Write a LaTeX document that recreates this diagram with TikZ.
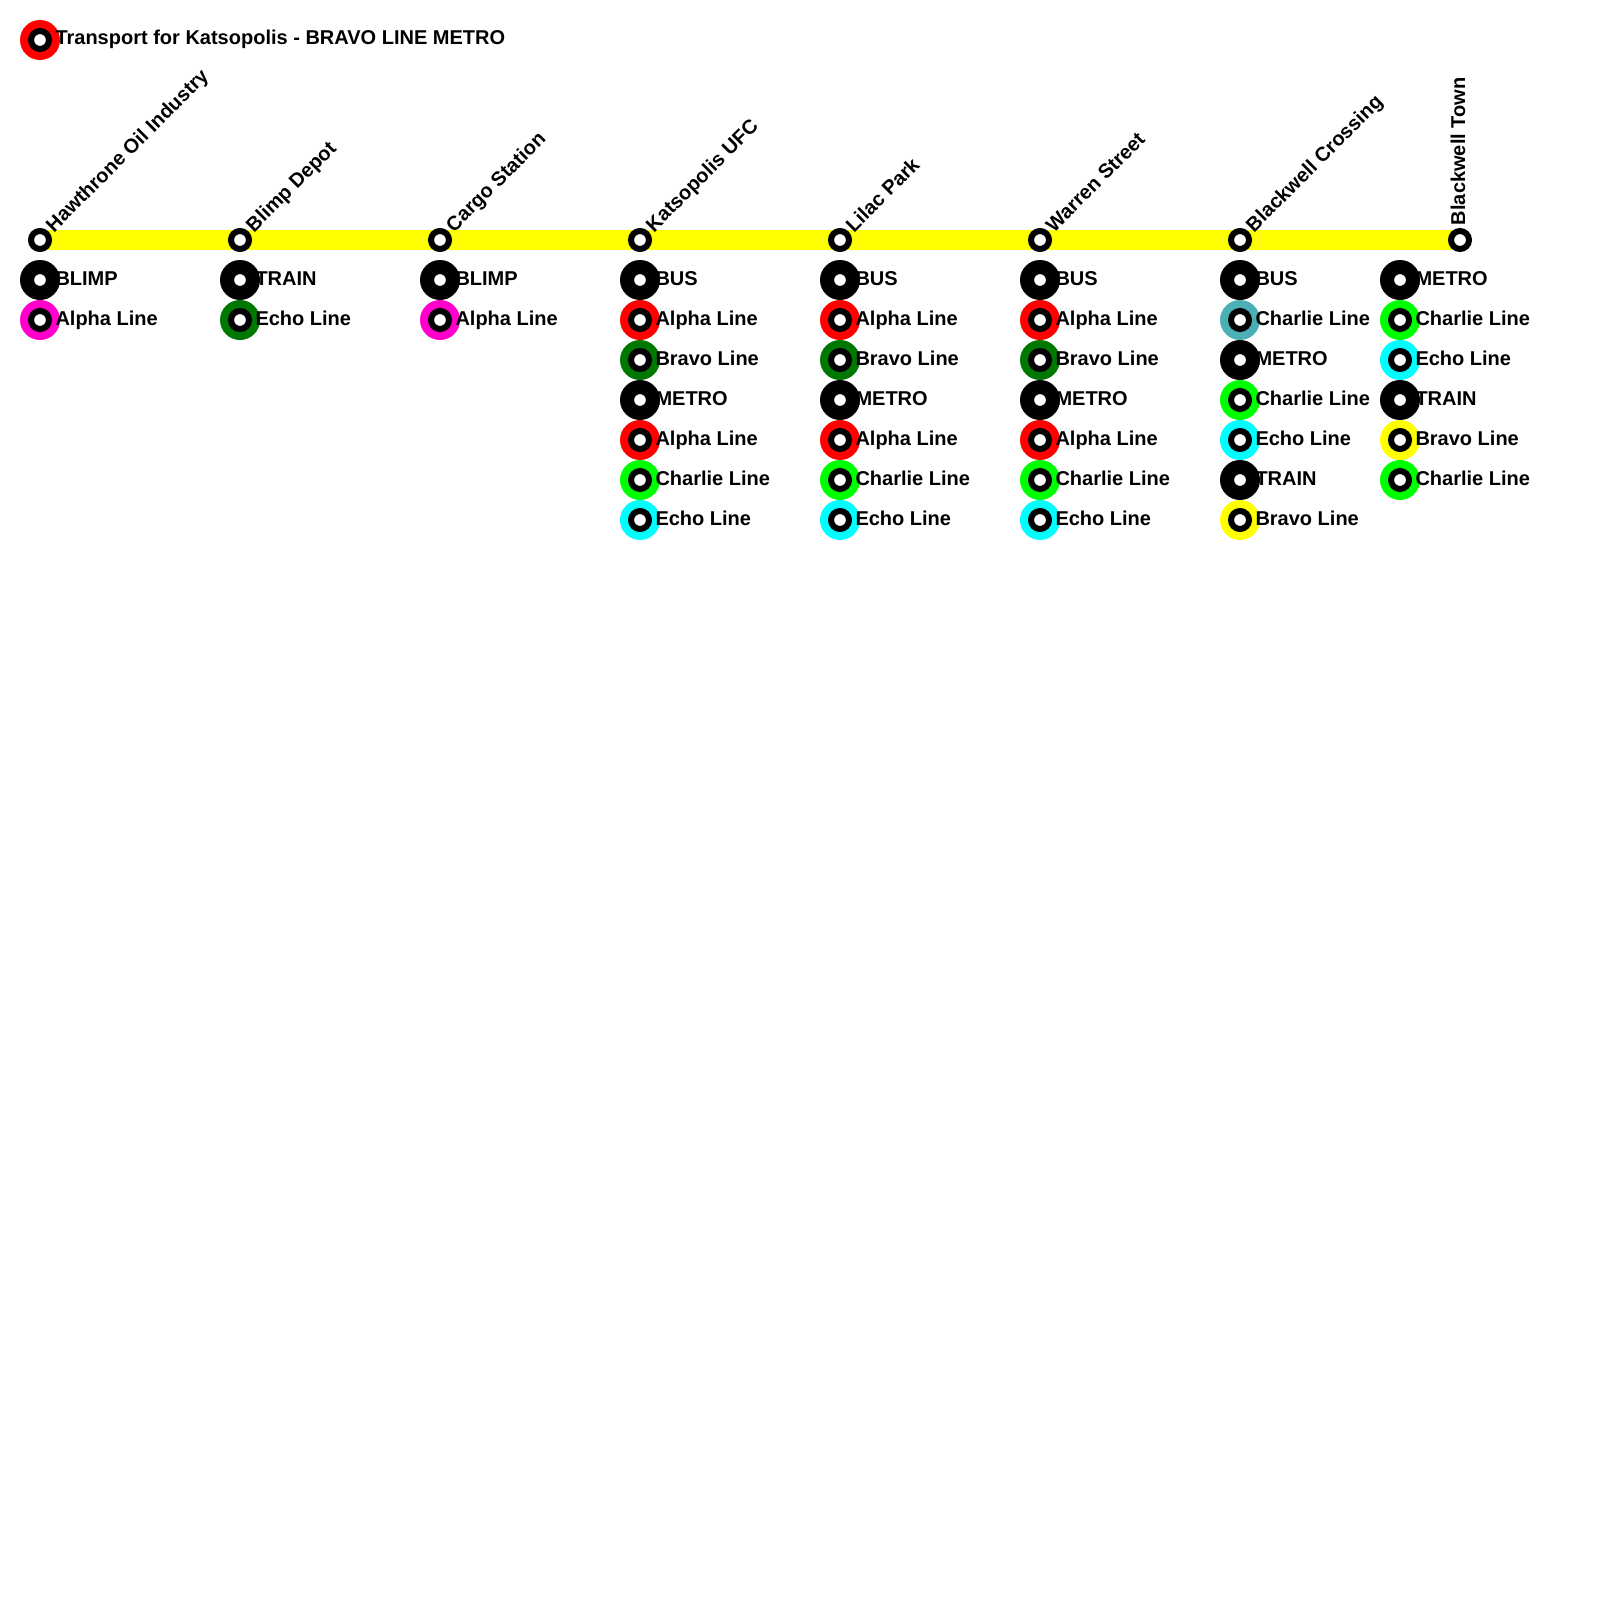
\documentclass[tikz,border=0pt]{standalone}
\usepackage{fontspec}
\setmainfont{Liberation Sans}
\usetikzlibrary{backgrounds}
\definecolor{cred}{HTML}{FF0000}
\definecolor{cmag}{HTML}{FF00CC}
\definecolor{cdgr}{HTML}{007700}
\definecolor{ccya}{HTML}{00FFFF}
\definecolor{clim}{HTML}{00FF00}
\definecolor{cyel}{HTML}{FFFF00}
\definecolor{ctea}{HTML}{4AB0B5}
\tikzset{
  ringbase/.style={circle,inner sep=0pt,minimum size=40pt,fill=#1},
  stopmark/.style={circle,inner sep=0pt,minimum size=18pt,fill=white,draw=black,line width=6pt},
  lbl/.style={anchor=base west,inner sep=0pt,outer sep=0pt,font=\fontsize{20pt}{24pt}\selectfont\bfseries},
  stname/.style={lbl,rotate=#1},
  route/.style={draw=cyel,line width=20pt}
}
\newcommand{\mk}[5]{% name, x, y, colour, text
  \node[ringbase=#4] (#1o) at (#2,#3) {};
  \node[stopmark] (#1i) at (#2,#3) {};
  \node[lbl] (#1t) at (#2+15.5,#3+5) {#5};
}
\begin{document}
\begin{tikzpicture}[x=1pt,y=-1pt]
\useasboundingbox (0,0) rectangle (1600,1600);
\mk{title}{40}{40}{cred}{Transport for Katsopolis - BRAVO LINE METRO}
% stations
\foreach \n/\x/\a/\ox/\oy/\t in {
  s1/40/45/14/-7/Hawthrone Oil Industry,
  s2/240/45/14/-7/Blimp Depot,
  s3/440/45/14/-7/Cargo Station,
  s4/640/45/14/-7/Katsopolis UFC,
  s5/840/45/14/-7/Lilac Park,
  s6/1040/45/14/-7/Warren Street,
  s7/1240/45/14/-7/Blackwell Crossing,
  s8/1460/90/5/-15/Blackwell Town}{
  \node[stopmark] (\n) at (\x,240) {};
  \node[stname=\a] (\n t) at (\x+\ox,240+\oy) {\t};
}
\begin{scope}[on background layer]
\draw[route] (s1.center) -- (s2.center);
\draw[route] (s2.center) -- (s3.center);
\draw[route] (s3.center) -- (s4.center);
\draw[route] (s4.center) -- (s5.center);
\draw[route] (s5.center) -- (s6.center);
\draw[route] (s6.center) -- (s7.center);
\draw[route] (s7.center) -- (s8.center);
\end{scope}
% service markers
\foreach \n/\x/\y/\c/\t in {
  a1/40/280/black/BLIMP, a2/40/320/cmag/Alpha Line,
  b1/240/280/black/TRAIN, b2/240/320/cdgr/Echo Line,
  c1/440/280/black/BLIMP, c2/440/320/cmag/Alpha Line,
  d1/640/280/black/BUS, d2/640/320/cred/Alpha Line, d3/640/360/cdgr/Bravo Line, d4/640/400/black/METRO, d5/640/440/cred/Alpha Line, d6/640/480/clim/Charlie Line, d7/640/520/ccya/Echo Line,
  e1/840/280/black/BUS, e2/840/320/cred/Alpha Line, e3/840/360/cdgr/Bravo Line, e4/840/400/black/METRO, e5/840/440/cred/Alpha Line, e6/840/480/clim/Charlie Line, e7/840/520/ccya/Echo Line,
  f1/1040/280/black/BUS, f2/1040/320/cred/Alpha Line, f3/1040/360/cdgr/Bravo Line, f4/1040/400/black/METRO, f5/1040/440/cred/Alpha Line, f6/1040/480/clim/Charlie Line, f7/1040/520/ccya/Echo Line,
  g1/1240/280/black/BUS, g2/1240/320/ctea/Charlie Line, g3/1240/360/black/METRO, g4/1240/400/clim/Charlie Line, g5/1240/440/ccya/Echo Line, g6/1240/480/black/TRAIN, g7/1240/520/cyel/Bravo Line,
  h1/1400/280/black/METRO, h2/1400/320/clim/Charlie Line, h3/1400/360/ccya/Echo Line, h4/1400/400/black/TRAIN, h5/1400/440/cyel/Bravo Line, h6/1400/480/clim/Charlie Line}{
  \mk{\n}{\x}{\y}{\c}{\t}
}
\end{tikzpicture}
\end{document}
